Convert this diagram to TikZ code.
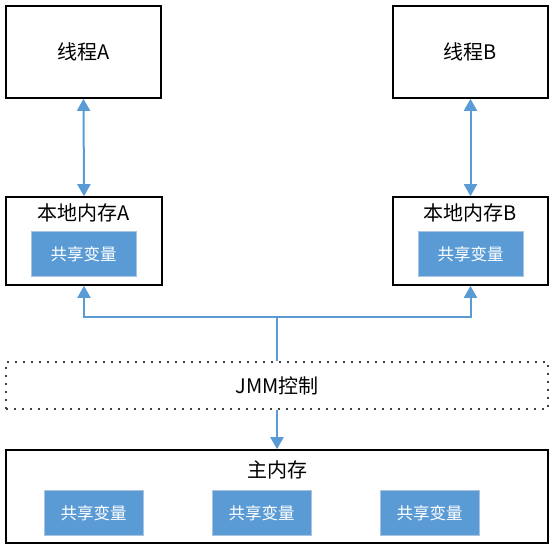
\documentclass[tikz,border=0pt]{standalone}
\usepackage{fontspec}
\setmainfont{Noto Sans CJK SC}
\usetikzlibrary{arrows.meta}
\definecolor{linkblue}{HTML}{5B9BD5}
\definecolor{varedge}{HTML}{A9C4E0}

\begin{document}
\begin{tikzpicture}[x=1pt,y=-1pt,>={Triangle[width=13pt,length=12pt]},
  box/.style={draw=black,line width=1.6pt,minimum width=#1,inner sep=0pt},
  var/.style={fill=linkblue,draw=varedge,line width=0.8pt,minimum width=#1,minimum height=45pt,
    text=white,font=\fontsize{16.5}{19}\selectfont,inner sep=0pt},
  title/.style={font=\fontsize{20}{23}\selectfont,inner sep=0pt},
  link/.style={draw=linkblue,line width=2pt}]
  \useasboundingbox (0,0) rectangle (555,550);
  % threads
  \node[box=155pt,minimum height=92pt,title] (thrA) at (83.5,52) {线程A};
  \node[box=155pt,minimum height=92pt,title] (thrB) at (470.5,52) {线程B};
  % local memories
  \node[box=156pt,minimum height=88pt] (memA) at (84,241) {};
  \node[title] (memAtxt) at (84,213) {本地内存A};
  \node[var=105pt] (varA) at (83.5,254) {共享变量};
  \node[box=155pt,minimum height=88pt] (memB) at (470.5,241) {};
  \node[title] (memBtxt) at (470.5,213) {本地内存B};
  \node[var=105pt] (varB) at (470.5,254) {共享变量};
  % JMM
  \node[draw=black!75,dash pattern=on 1.6pt off 6.4pt,line width=1.6pt,minimum width=542pt,
    minimum height=47pt,inner sep=0pt,title] (jmm) at (277,385.5) {JMM控制};
  % main memory
  \node[box=542pt,minimum height=93pt] (main) at (277,496.5) {};
  \node[title] (maintxt) at (277,470) {主内存};
  \node[var=99pt] (var1) at (93.5,513) {共享变量};
  \node[var=99pt] (var2) at (261.5,513) {共享变量};
  \node[var=99pt] (var3) at (429.5,513) {共享变量};
  \coordinate (hub) at (277,317);
  % connectors
  \draw[link,<->] (thrA.south) -- (memA.north);
  \draw[link,<->] (thrB.south) -- (memB.north);
  \draw[link,->] (hub) -| (memA.south);
  \draw[link,->] (hub) -| (memB.south);
  \draw[link] (jmm.north) -- (hub);
  \draw[link,->] (jmm.south) -- (main.north);
\end{tikzpicture}
\end{document}
